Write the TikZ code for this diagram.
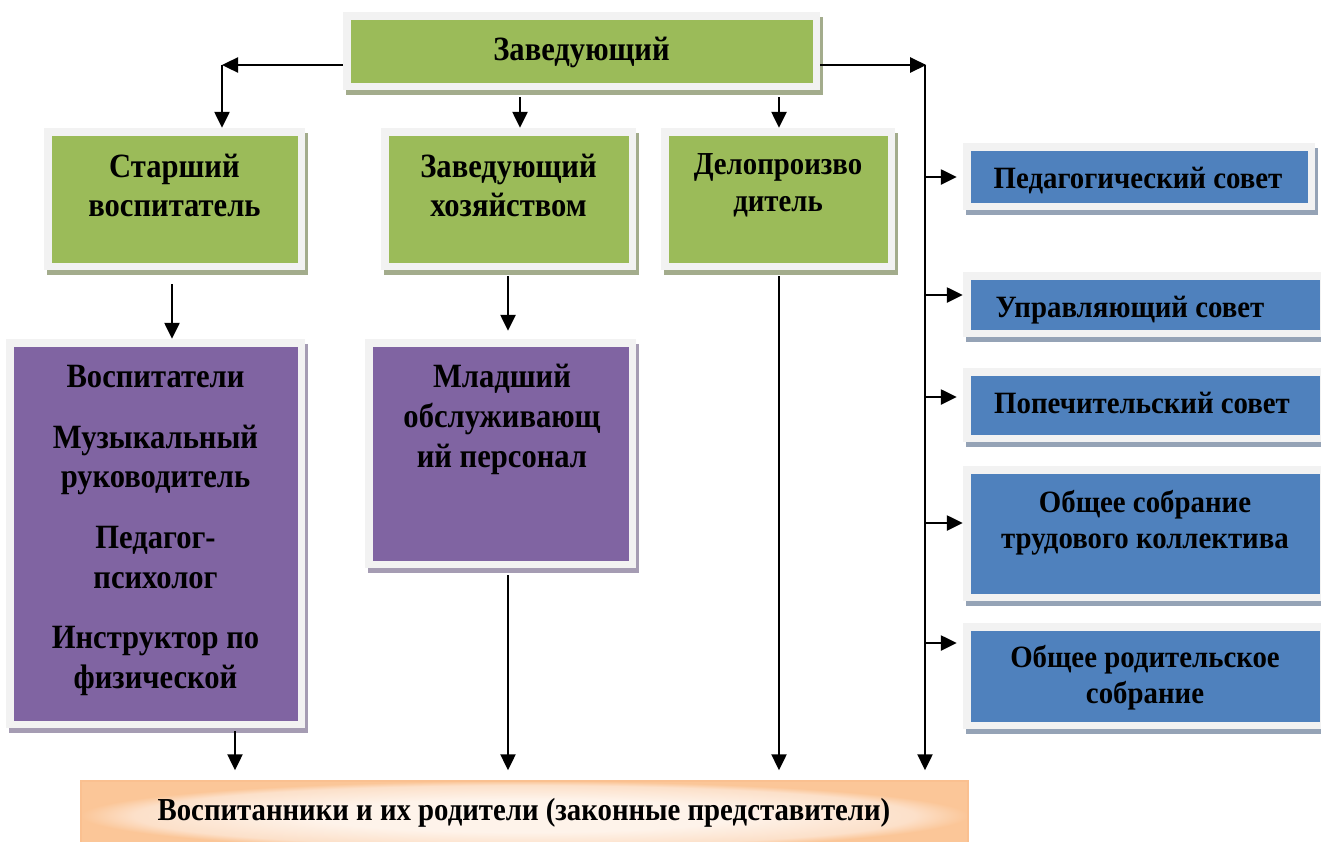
\documentclass[tikz,border=0pt]{standalone}
\usepackage{fontspec}
\setmainfont{Liberation Serif}
\newfontfamily\condA{Liberation Serif}[FakeStretch=0.9]
\newfontfamily\condB{Liberation Serif}[FakeStretch=0.93]
\usetikzlibrary{arrows.meta,fit}
\definecolor{frame}{HTML}{F2F2F2}
\definecolor{gfill}{HTML}{9BBB59}
\definecolor{gsh}{HTML}{A3AC8C}
\definecolor{pfill}{HTML}{8064A2}
\definecolor{psh}{HTML}{A59CB3}
\definecolor{bfill}{HTML}{4F81BD}
\definecolor{bsh}{HTML}{95A3B6}
\definecolor{oborder}{HTML}{FAC090}
\definecolor{oedge}{HTML}{FBC698}
\definecolor{omid}{HTML}{FCE0C9}
\definecolor{ocenter}{HTML}{FEF3EA}
\pgfdeclareradialshading{peach}{\pgfpoint{0bp}{0bp}}{color(0bp)=(ocenter); color(12bp)=(ocenter); color(22bp)=(omid); color(25bp)=(oedge); color(50bp)=(oedge)}
\newcommand\frbox[6]{% name, x1, y1, x2, y2 (outer frame), colour prefix
  \fill[#6sh] (#2+3,#3+5) rectangle (#4+3,#5+5);
  \node[fit={(#2,#3) (#4,#5)}, inner sep=0pt, fill=frame] (#1) {};
  \fill[#6fill] (#2+7.5,#3+7.5) rectangle (#4-7.5,#5-7.5);
}
\tikzset{
  arr/.style={line width=2.4pt, -{Triangle[length=16pt,width=15pt]}},
  ln/.style={line width=2.4pt},
  btxt/.style={font=\condA\fontsize{34}{40}\selectfont\bfseries, anchor=base, inner sep=0pt},
  stxt/.style={font=\condB\fontsize{31}{36}\selectfont\bfseries, anchor=base, inner sep=0pt},
  dtxt/.style={font=\condA\fontsize{32}{36}\selectfont\bfseries, anchor=base, inner sep=0pt},
}
\begin{document}
\begin{tikzpicture}[x=1pt,y=-1pt]
\useasboundingbox (0,0) rectangle (1321,841);
\clip (0,0) rectangle (1321,841);
% boxes
\frbox{zav}{343}{12}{820}{90}{g}
\frbox{star}{44}{128}{305}{270}{g}
\frbox{hoz}{381}{128}{636}{270}{g}
\frbox{delo}{661}{128}{895}{270}{g}
\frbox{vosp}{6}{339}{305}{728}{p}
\frbox{mlad}{365}{339}{636}{568}{p}
\frbox{ped}{963}{143}{1315}{210}{b}
\frbox{upr}{963}{272}{1327}{337}{b}
\frbox{pop}{963}{368}{1327}{442}{b}
\frbox{obs}{963}{466}{1327}{601}{b}
\frbox{rod}{963}{623}{1327}{729}{b}
\node[fit={(81,781) (968,850)}, inner sep=0pt, draw=oborder, line width=1.5pt,
      shading=peach] (bot) {};
% texts
\node[btxt] (zav-t) at (581.5,60) {Заведующий};
\node[btxt] (star-t1) at (174.5,177) {Старший};
\node[btxt] (star-t2) at (174.5,216) {воспитатель};
\node[btxt] (hoz-t1) at (508.5,177) {Заведующий};
\node[btxt] (hoz-t2) at (508.5,216) {хозяйством};
\node[dtxt] (delo-t1) at (778,174) {Делопроизво};
\node[dtxt] (delo-t2) at (778,211) {дитель};
\node[btxt] (vosp-t1) at (155.5,387) {Воспитатели};
\node[btxt] (vosp-t2) at (155.5,448) {Музыкальный};
\node[btxt] (vosp-t3) at (155.5,487) {руководитель};
\node[btxt] (vosp-t4) at (155.5,548) {Педагог-};
\node[btxt] (vosp-t5) at (155.5,588) {психолог};
\node[btxt] (vosp-t6) at (155.5,648) {Инструктор по};
\node[btxt] (vosp-t7) at (155.5,688) {физической};
\node[btxt] (mlad-t1) at (502,387) {Младший};
\node[btxt] (mlad-t2) at (502,427) {обслуживающ};
\node[btxt] (mlad-t3) at (502,467) {ий персонал};
\node[stxt] (ped-t) at (1138,188) {Педагогический совет};
\node[stxt] (upr-t) at (1130,317) {Управляющий совет};
\node[stxt] (pop-t) at (1142,413) {Попечительский совет};
\node[stxt] (obs-t1) at (1145,512) {Общее собрание};
\node[stxt] (obs-t2) at (1145,548) {трудового коллектива};
\node[stxt] (rod-t1) at (1145,667) {Общее родительское};
\node[stxt] (rod-t2) at (1145,703) {собрание};
\node[dtxt] (bot-t) at (524,820) {Воспитанники и их родители (законные представители)};
% connectors
\coordinate (tl) at (222,65);
\coordinate (tr) at (925,65);
\draw[arr] (zav.west |- tl) -- (tl);
\draw[arr] (tl) -- (tl |- star.north);
\draw[ln] (zav.east |- tr) -- (tr);
\draw[arr] (zav.east |- tr) -- ([xshift=1.2pt]tr);
\draw[arr] (tr) -- ([yshift=10pt]tr |- bot.north);
\draw[arr] ([yshift=-7pt]zav.south -| 520,0) -- (520,0 |- hoz.north);
\draw[arr] ([yshift=-7pt]zav.south -| 779,0) -- (779,0 |- delo.north);
\draw[arr] ([yshift=-14pt]star.south -| 172,0) -- (172,0 |- vosp.north);
\draw[arr] ([yshift=-6pt]hoz.south -| 508,0) -- ([yshift=8pt]508,0 |- mlad.north);
\draw[arr] ([yshift=-6pt]delo.south -| 779,0) -- ([yshift=10pt]779,0 |- bot.north);
\draw[arr] ([yshift=-3pt]vosp.south -| 235,0) -- ([yshift=10pt]235,0 |- bot.north);
\draw[arr] ([yshift=-7pt]mlad.south -| 508,0) -- ([yshift=10pt]508,0 |- bot.north);
\draw[arr] (tr |- 0,177) -- ([xshift=-6pt]ped.west |- 0,177);
\draw[arr] (tr |- 0,295) -- (upr.west |- 0,295);
\draw[arr] (tr |- 0,397) -- ([xshift=-6pt]pop.west |- 0,397);
\draw[arr] (tr |- 0,523) -- (obs.west |- 0,523);
\draw[arr] (tr |- 0,643) -- ([xshift=-6pt]rod.west |- 0,643);
\end{tikzpicture}
\end{document}
